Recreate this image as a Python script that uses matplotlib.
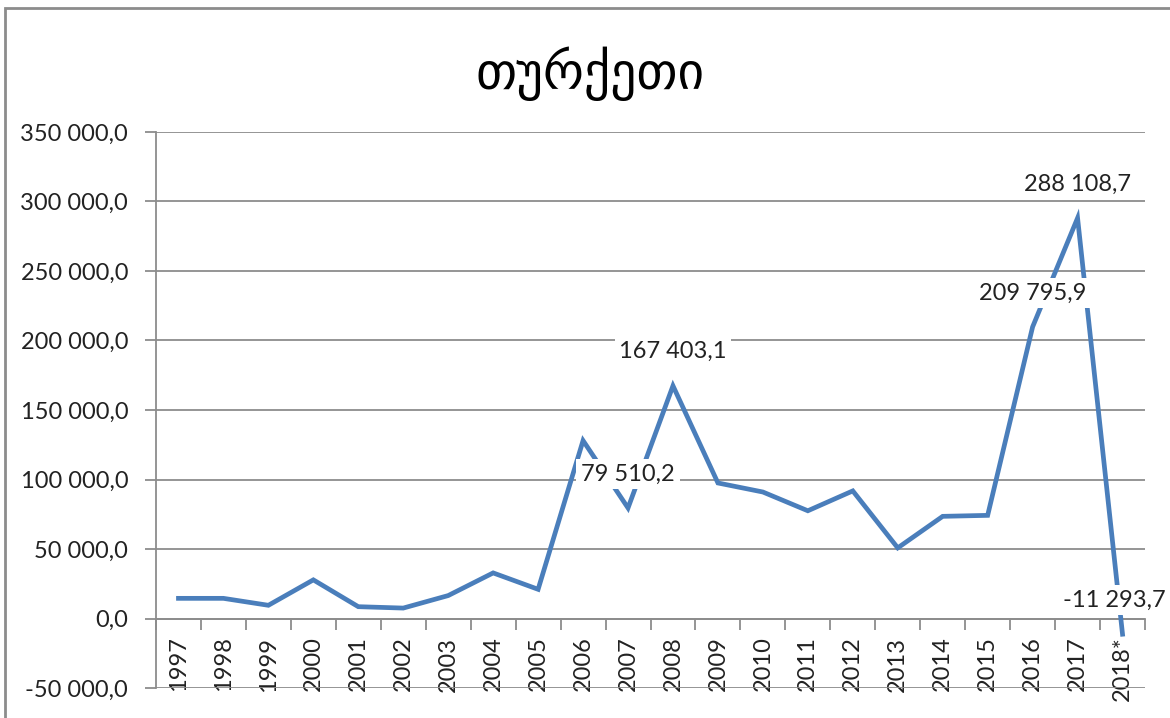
import matplotlib.pyplot as plt
from matplotlib.patches import Rectangle
from matplotlib.ticker import FixedLocator, FuncFormatter

plt.rcParams['font.family'] = ['Lato', 'DejaVu Sans']

# წლები და მნიშვნელობები
years = ['1997', '1998', '1999', '2000', '2001', '2002', '2003', '2004', '2005', '2006', '2007',
         '2008', '2009', '2010', '2011', '2012', '2013', '2014', '2015', '2016', '2017', '2018*']
values = [14500, 14500, 9500, 27800, 8500, 7500, 16500, 32800, 21000, 128000, 79510.2,
          167403.1, 97500, 91000, 77500, 91800, 50800, 73500, 74200, 209795.9, 288108.7, -11293.7]
# რომელ წერტილებს აქვს წარწერა
labeled = ['2007', '2008', '2016', '2017', '2018*']
title = 'თურქეთი'


def fmt(v, pos=None):
    return '{:,.1f}'.format(v).replace(',', ' ').replace('.', ',')


fig = plt.figure(figsize=(11.7, 7.18), dpi=100)
fig.patches.append(Rectangle((5 / 1170, -0.1), 1.2, 1.1 - 8 / 718, transform=fig.transFigure,
                             fill=False, edgecolor='#8c8c8c', linewidth=2))
ax = fig.add_axes([156 / 1170, 1 - 688 / 718, 989 / 1170, 556 / 718])

# spine position first, it resets the tick settings
for s in ['top', 'right']:
    ax.spines[s].set_visible(False)
ax.spines['bottom'].set_position(('data', 0))
for s in ['bottom', 'left']:
    ax.spines[s].set_color('#8c8c8c')
    ax.spines[s].set_linewidth(1.3)

x = list(range(len(years)))
ax.plot(x, values, color='#4a7ebb', linewidth=3.4, solid_joinstyle='miter', zorder=3)

for i, y in enumerate(years):
    if y in labeled:
        dx = -8 if y == '2018*' else 0
        ax.annotate(fmt(values[i]), (i, values[i]), xytext=(dx, 34), textcoords='offset pixels',
                    ha='center', va='center', fontsize=17, color='#222222', zorder=5,
                    bbox=dict(boxstyle='square,pad=0.2', facecolor='white', edgecolor='none'))

ax.set_xlim(-0.5, len(years) - 0.5)
ax.set_ylim(-50000, 350000)
ax.yaxis.set_major_locator(FixedLocator(range(-50000, 350001, 50000)))
ax.yaxis.set_major_formatter(FuncFormatter(fmt))
ax.grid(axis='y', color='#8c8c8c', linewidth=1.3)
ax.set_axisbelow(True)

ax.set_xticks(x)
ax.set_xticklabels(years, rotation=90, fontsize=17, color='#222222', va='top', ha='center')
ax.set_xticks([i - 0.5 for i in range(len(years) + 1)], minor=True)
ax.tick_params(axis='x', which='major', length=0, pad=13)
ax.tick_params(axis='x', which='minor', length=8, width=1.3, color='#8c8c8c', direction='out')
ax.tick_params(axis='y', length=8, width=1.3, color='#8c8c8c', labelsize=17, labelcolor='#222222', pad=12)

fig.text(590 / 1170, 1 - 74 / 718, title, ha='center', va='center', fontsize=37,
         family=['DejaVu Sans'])

fig.savefig('out.png', dpi=100)
